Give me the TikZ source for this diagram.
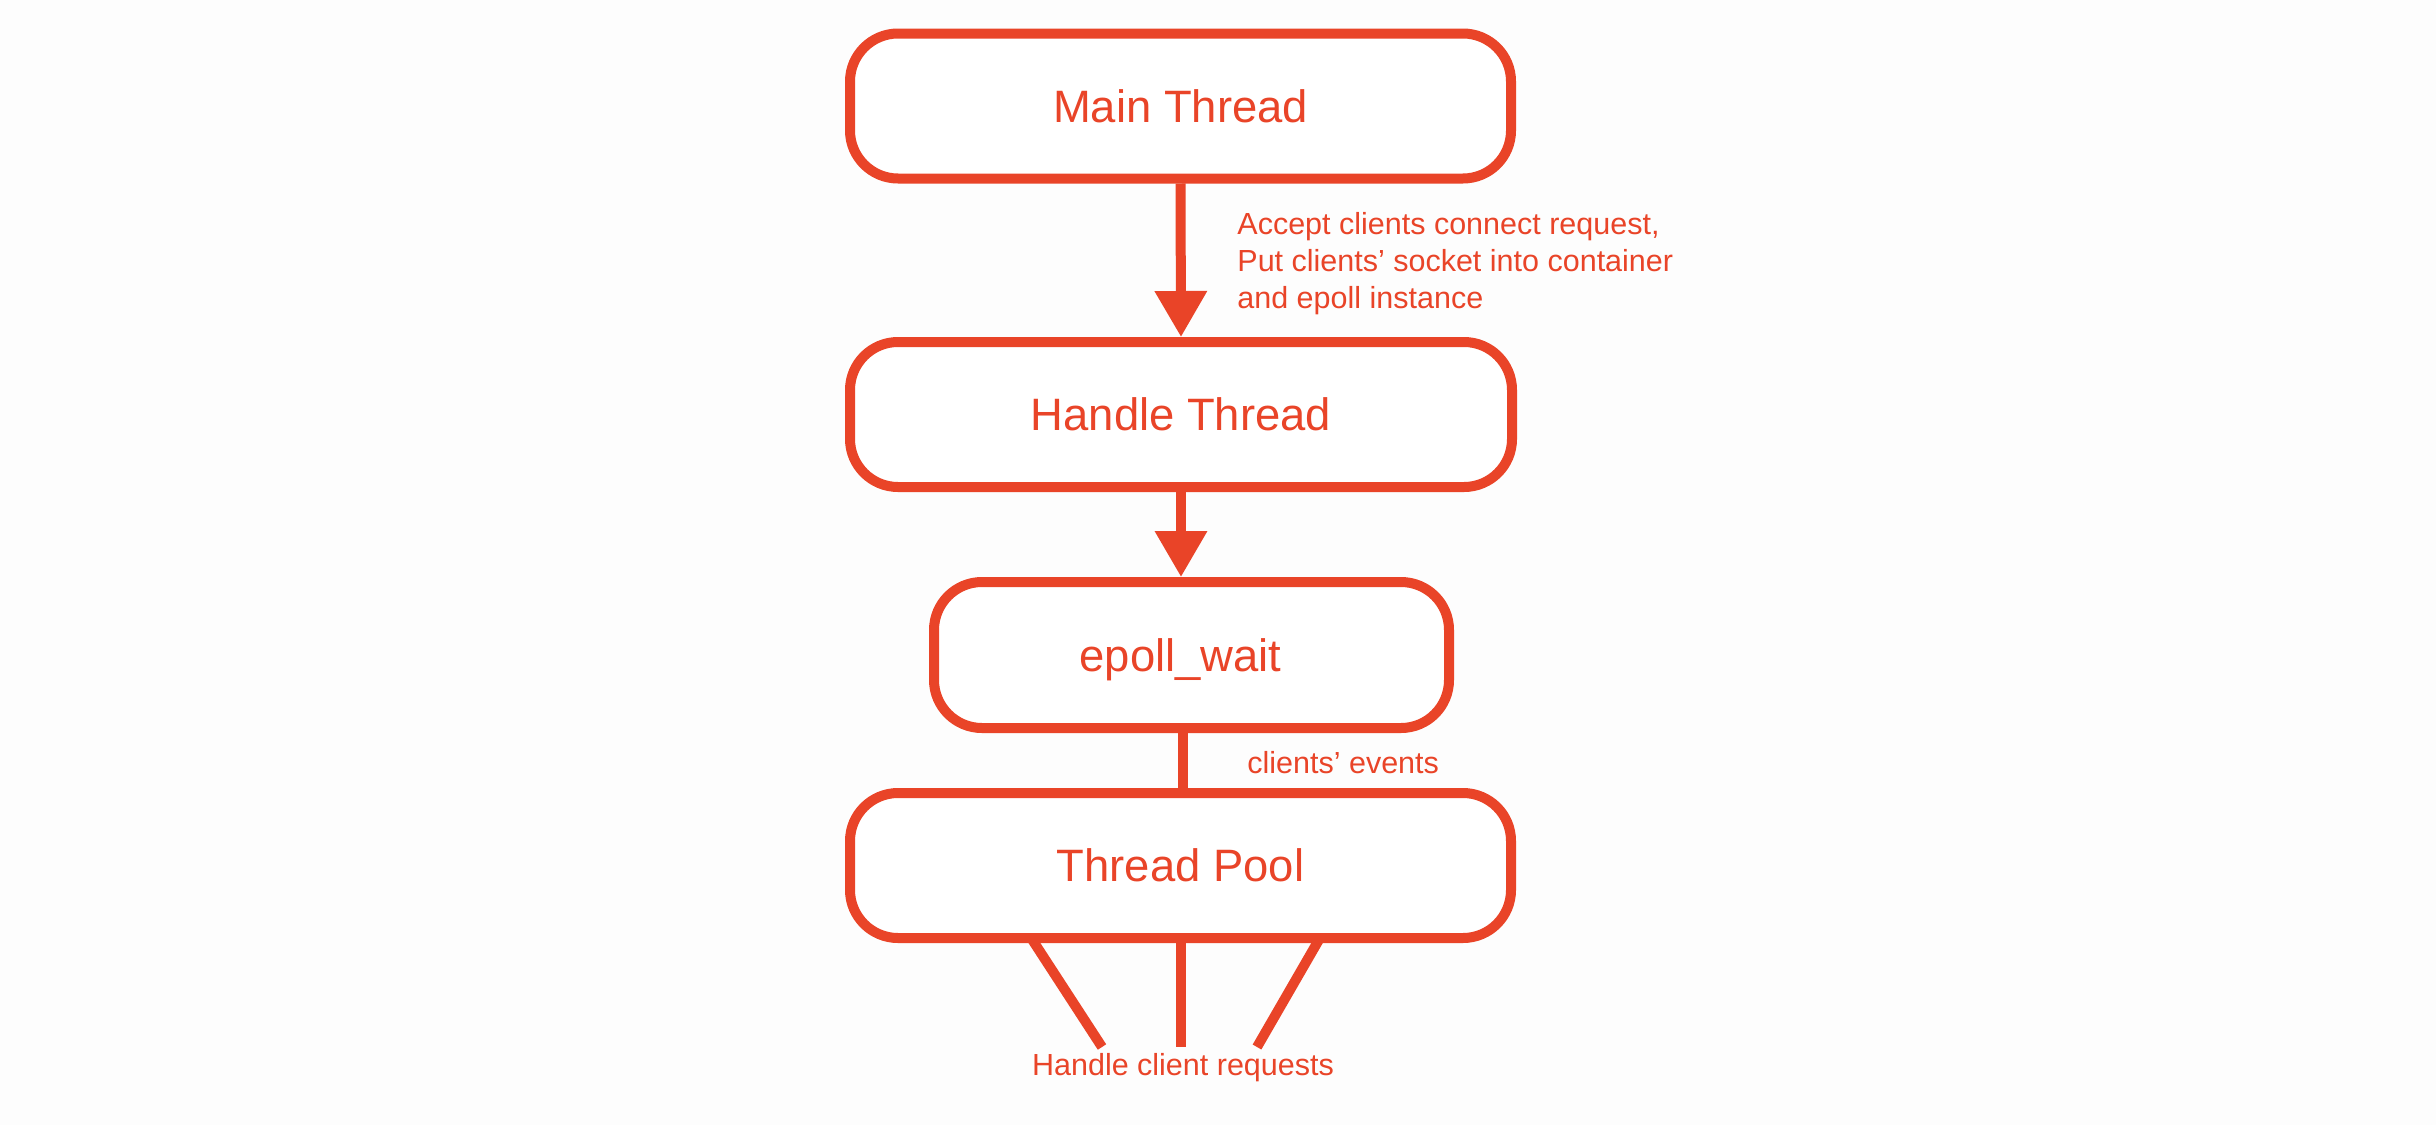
\documentclass[tikz,border=0pt]{standalone}
\usepackage{fontspec}
\setmainfont{Liberation Sans}
\usetikzlibrary{arrows.meta}
\definecolor{accent}{HTML}{E94428}
\definecolor{bg}{HTML}{FDFDFD}
\begin{document}
\begin{tikzpicture}[x=0.5pt,y=-0.5pt,
  box/.style={draw=accent, line width=5pt, fill=white, rounded corners=24pt,
    minimum height=72.5pt, inner sep=0pt, text depth=0pt, text=accent,
    font=\fontsize{22.7}{27}\selectfont},
  conn/.style={draw=accent, line width=5pt},
  tipped/.style={-{Triangle[width=25pt,length=23pt]}},
  lbl/.style={text=accent, inner sep=0pt, font=\fontsize{15.25}{18.5}\selectfont}]
\path[use as bounding box, fill=bg] (0,0) rectangle (2436,1125);

\node[box, minimum width=330.5pt] (main) at (1180.5,106) {Main Thread};
\node[box, minimum width=331pt] (handle) at (1181,414.5) {Handle Thread};
\node[box, minimum width=257.5pt, minimum height=73pt] (epoll) at (1191.5,655) {\hspace*{-11pt}epoll\_wait};
\node[box, minimum width=330.5pt] (pool) at (1180.5,865.5) {Thread Pool};

\draw[conn, tipped] (main.south) -- (handle.north);
\draw[conn, tipped] (handle.south) -- (handle.south |- epoll.north);
\draw[conn] ([xshift=1pt]pool.north |- epoll.south) -- ([xshift=1pt]pool.north);

\coordinate (e1) at (1102,1047);
\coordinate (e2) at (1180.5,1047);
\coordinate (e3) at (1257,1047);
\draw[conn] ([xshift=-75pt, yshift=3pt]pool.south) -- (e1);
\draw[conn] ([yshift=3pt]pool.south) -- (e2);
\draw[conn] ([xshift=70pt, yshift=3pt]pool.south) -- (e3);

\node[lbl, anchor=base west, align=left] (acc) at (1237,308)
  {Accept clients connect request,\\Put clients’ socket into container\\and epoll instance};
\node[lbl, anchor=base west] (ev) at (1247,773) {clients’ events};
\node[lbl, anchor=base] (req) at (1183,1075) {Handle client requests};
\end{tikzpicture}
\end{document}
